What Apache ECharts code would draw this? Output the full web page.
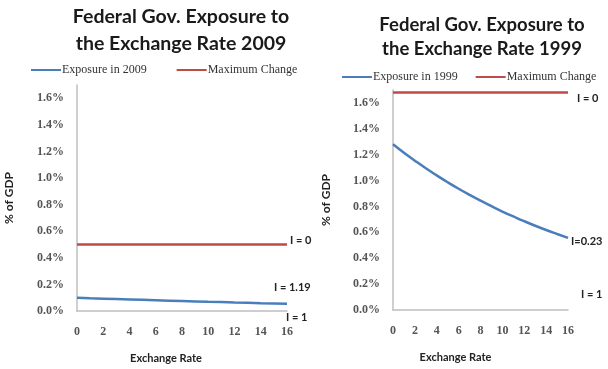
<!DOCTYPE html>
<html>
<head>
<meta charset="utf-8">
<script src="https://cdn.jsdelivr.net/npm/echarts@6/dist/echarts.min.js"></script>
<style>
  html, body { margin: 0; padding: 0; background: #fff; }
  #chart { width: 608px; height: 369px; }
</style>
</head>
<body>
<div id="chart"></div>
<script>
// Exchange rate steps shared by both panels
const exchangeRate = [0, 1, 2, 3, 4, 5, 6, 7, 8, 9, 10, 11, 12, 13, 14, 15, 16];

// Exposure, % of GDP
const exposure2009 = [0.100, 0.096, 0.093, 0.090, 0.087, 0.084, 0.081, 0.078, 0.075,
                      0.072, 0.069, 0.067, 0.064, 0.062, 0.059, 0.057, 0.055];
const exposure1999 = [1.28, 1.215, 1.154, 1.095, 1.040, 0.987, 0.937, 0.890, 0.845,
                      0.802, 0.761, 0.723, 0.686, 0.651, 0.618, 0.587, 0.557];

// Maximum change level, % of GDP
const maxChange2009 = [0.5, 0.5];
const maxChange1999 = [1.68, 1.68];
const maxChangeX = [0, 16];

// Y tick values shown
const yTicks = [0, 0.2, 0.4, 0.6, 0.8, 1.0, 1.2, 1.4, 1.6];

// End-of-line annotations
const labels2009 = { top: 'I = 0', mid: 'I = 1.19', low: 'I = 1' };
const labels1999 = { top: 'I = 0', mid: 'I=0.23', low: 'I = 1' };

const BLUE = '#4a7ebb';
const RED = '#be4b48';
const AXIS = '#bfbfbf';
const SERIF = '"Liberation Serif", "DejaVu Serif", serif';
const SANS = 'Lato, "Open Sans", "Liberation Sans", sans-serif';

function pairs(xs, ys) { return xs.map((x, i) => [x, ys[i]]); }

function xAxisFor(gridIndex, namePad) {
  return {
    gridIndex, type: 'value', min: 0, max: 16, interval: 2,
    axisLine: { lineStyle: { color: AXIS, width: 1.5 } },
    axisTick: { show: false },
    splitLine: { show: false },
    axisLabel: { color: '#555', fontFamily: SERIF, fontWeight: 'bold', fontSize: 12, margin: 15 },
    name: 'Exchange Rate', nameLocation: 'middle', nameGap: 42,
    nameTextStyle: { color: '#222', fontFamily: SANS, fontWeight: 'bold', fontSize: 11, padding: namePad }
  };
}

function yAxisFor(gridIndex, nameGap) {
  return {
    gridIndex, type: 'value', min: 0, max: 1.7, interval: 0.1,
    axisLine: { show: true, lineStyle: { color: AXIS, width: 1.5 } },
    axisTick: { show: false },
    splitLine: { show: false },
    axisLabel: {
      color: '#555', fontFamily: SERIF, fontWeight: 'bold', fontSize: 12, margin: 13,
      formatter: v => yTicks.some(t => Math.abs(t - v) < 1e-6) ? v.toFixed(1) + '%' : ''
    },
    name: '% of GDP', nameLocation: 'middle', nameGap, nameRotate: 90,
    nameTextStyle: { color: '#222', fontFamily: SANS, fontWeight: 'bold', fontSize: 12 }
  };
}

function endMark(coord, text, offset) {
  return {
    coord, symbolSize: 0,
    label: { show: true, formatter: text, position: 'right', offset,
             color: '#222', fontFamily: SANS, fontWeight: 'bold', fontSize: 11 }
  };
}

const legendText = { fontFamily: SERIF, fontSize: 12, color: '#333', padding: [0, 0, 0, -4] };

const option = {
  backgroundColor: '#fff',
  animation: false,
  title: [
    { text: 'Federal Gov. Exposure to\nthe Exchange Rate 2009', left: 176, top: -2, textAlign: 'center',
      textStyle: { fontFamily: SANS, fontWeight: 'bold', fontSize: 19.5, lineHeight: 27, color: '#1a1a1a' } },
    { text: 'Federal Gov. Exposure to\nthe Exchange Rate 1999', left: 477, top: 8, textAlign: 'center',
      textStyle: { fontFamily: SANS, fontWeight: 'bold', fontSize: 18.5, lineHeight: 24, color: '#1a1a1a' } }
  ],
  legend: [
    { left: 31, top: 64, padding: 0, width: 290, itemWidth: 30, itemHeight: 2, itemGap: 30, icon: 'rect',
      data: ['Exposure in 2009', 'Maximum Change'], textStyle: legendText },
    { left: 342, top: 71, padding: 0, width: 266, itemWidth: 30, itemHeight: 2, itemGap: 18, icon: 'rect',
      data: ['Exposure in 1999', { name: 'Maximum Change ' }], textStyle: legendText }
  ],
  grid: [
    { left: 77, right: 321, top: 85, bottom: 57 },
    { left: 393, right: 40, top: 90, bottom: 59 }
  ],
  xAxis: [xAxisFor(0, [0, 32, 0, 0]), xAxisFor(1, [0, 50, 0, 0])],
  yAxis: [yAxisFor(0, 62), yAxisFor(1, 61)],
  series: [
    { name: 'Exposure in 2009', type: 'line', xAxisIndex: 0, yAxisIndex: 0,
      data: pairs(exchangeRate, exposure2009), showSymbol: false, symbol: 'none',
      lineStyle: { color: BLUE, width: 2.5 }, itemStyle: { color: BLUE },
      markPoint: { data: [
        endMark([16, exposure2009[16]], labels2009.mid, [-18, -16]),
        endMark([16, 0], labels2009.low, [-6, 6])
      ] } },
    { name: 'Maximum Change', type: 'line', xAxisIndex: 0, yAxisIndex: 0,
      data: pairs(maxChangeX, maxChange2009), showSymbol: false, symbol: 'none',
      lineStyle: { color: RED, width: 2.5 }, itemStyle: { color: RED },
      markPoint: { data: [ endMark([16, maxChange2009[1]], labels2009.top, [-2, -4]) ] } },
    { name: 'Exposure in 1999', type: 'line', xAxisIndex: 1, yAxisIndex: 1,
      data: pairs(exchangeRate, exposure1999), showSymbol: false, symbol: 'none', smooth: true,
      lineStyle: { color: BLUE, width: 2.5 }, itemStyle: { color: BLUE },
      markPoint: { data: [
        endMark([16, exposure1999[16]], labels1999.mid, [-2, 4]),
        endMark([16, 0], labels1999.low, [8, -16])
      ] } },
    { name: 'Maximum Change ', type: 'line', xAxisIndex: 1, yAxisIndex: 1,
      data: pairs(maxChangeX, maxChange1999), showSymbol: false, symbol: 'none',
      lineStyle: { color: RED, width: 2.5 }, itemStyle: { color: RED },
      markPoint: { data: [ endMark([16, maxChange1999[1]], labels1999.top, [4, 6]) ] } }
  ]
};

const chart = echarts.init(document.getElementById('chart'), null, { renderer: 'canvas' });
chart.setOption(option);
</script>
</body>
</html>
